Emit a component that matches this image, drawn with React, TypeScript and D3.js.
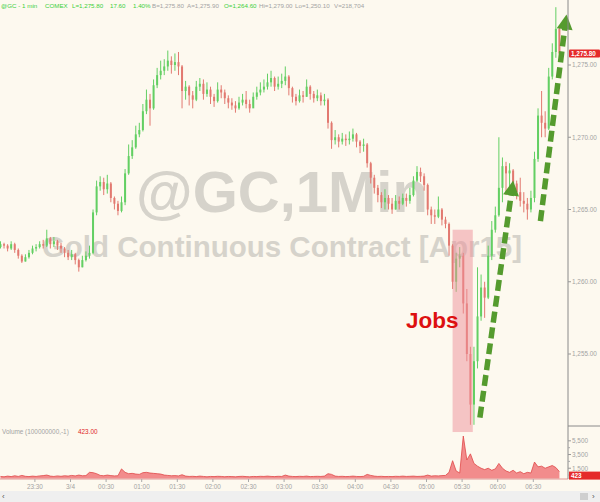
import React from 'react';
import * as d3 from 'd3';

const W = 600;
const H = 502;

// ---- data (3-minute bars) ----
const startMinute = -59; // 23:01, minutes relative to 3/4 00:00
const barMinutes = 3;
const firstOpen = 1262.4;

const closes = [
  1262.6, 1262.5, 1262.3, 1262.6, 1262.2, 1261.8, 1261.4, 1261.7, 1262.0, 1262.3,
  1262.4, 1262.6, 1262.5, 1263.0, 1262.6, 1262.8, 1262.5, 1262.3, 1262.0, 1261.7,
  1261.9, 1261.5, 1261.0, 1261.5, 1261.8, 1262.0, 1264.8, 1266.6, 1266.9, 1266.4,
  1266.8, 1265.8, 1265.4, 1264.9, 1265.5, 1267.5, 1268.7, 1269.3, 1270.2, 1270.5,
  1271.8, 1272.6, 1272.0, 1273.6, 1274.3, 1274.6, 1274.9, 1275.3, 1275.0, 1275.2,
  1274.9, 1273.2, 1273.5, 1272.9, 1272.6, 1273.5, 1273.7, 1273.0, 1273.3, 1272.8,
  1272.5, 1273.3, 1273.1, 1272.7, 1272.4, 1272.2, 1272.0, 1272.4, 1272.6, 1272.3,
  1272.0, 1272.8, 1273.1, 1273.3, 1273.5, 1273.8, 1274.1, 1273.5, 1273.7, 1273.9,
  1274.2, 1273.4, 1272.8, 1272.5, 1272.9, 1272.8, 1273.5, 1273.0, 1272.7, 1272.9,
  1272.5, 1272.6, 1271.0, 1269.8, 1270.0, 1269.7, 1269.9, 1269.8, 1269.9, 1270.2,
  1269.7, 1269.4, 1269.5, 1268.2, 1267.2, 1266.5, 1266.0, 1265.5, 1265.8, 1265.4,
  1265.0, 1265.6, 1265.4, 1265.8, 1265.6, 1266.0, 1267.0, 1267.6, 1267.3, 1266.7,
  1265.0, 1264.6, 1264.5, 1265.0, 1264.3, 1264.0, 1262.5, 1260.0, 1261.6, 1261.8,
  1258.5, 1255.0, 1251.5, 1254.5, 1257.6, 1259.6, 1258.9, 1261.8, 1263.6, 1264.6,
  1266.5, 1268.0, 1267.5, 1267.7, 1266.8, 1266.2, 1265.6, 1265.4, 1265.0, 1265.8,
  1268.5, 1271.5, 1271.0, 1270.6, 1274.2, 1275.9, 1277.5, 1275.8,
];

const highs = [
  1262.8, 1262.7, 1262.6, 1262.8, 1262.7, 1262.3, 1261.9, 1261.9, 1262.2, 1262.5,
  1262.6, 1262.8, 1262.9, 1263.6, 1263.1, 1263.1, 1262.9, 1262.7, 1262.4, 1262.2,
  1262.2, 1262.0, 1261.6, 1261.8, 1262.1, 1262.5, 1265.0, 1267.0, 1267.3, 1267.2,
  1267.4, 1266.9, 1265.9, 1265.6, 1265.9, 1267.8, 1269.5, 1269.8, 1270.8, 1271.0,
  1272.3, 1273.3, 1273.0, 1274.0, 1274.8, 1275.3, 1275.4, 1276.0, 1275.6, 1275.8,
  1275.9, 1275.0, 1273.9, 1273.6, 1273.2, 1273.9, 1274.1, 1274.0, 1273.8, 1273.5,
  1273.0, 1273.8, 1273.6, 1273.3, 1272.9, 1272.7, 1272.5, 1272.8, 1273.0, 1273.2,
  1272.6, 1273.1, 1273.5, 1273.8, 1274.0, 1274.4, 1274.6, 1274.2, 1274.2, 1274.4,
  1274.9, 1274.3, 1273.5, 1273.0, 1273.3, 1273.2, 1274.0, 1273.6, 1273.2, 1273.3,
  1273.1, 1273.0, 1272.7, 1271.1, 1270.5, 1270.2, 1270.3, 1270.2, 1270.4, 1270.6,
  1270.3, 1269.8, 1269.9, 1269.6, 1268.3, 1267.4, 1266.7, 1266.2, 1266.4, 1266.0,
  1265.8, 1266.0, 1265.9, 1266.1, 1266.1, 1266.5, 1267.3, 1268.0, 1267.9, 1267.5,
  1266.8, 1265.2, 1265.0, 1265.9, 1265.1, 1264.5, 1264.1, 1262.6, 1262.0, 1262.4,
  1262.0, 1259.5, 1255.5, 1255.5, 1261.0, 1260.5, 1260.0, 1262.5, 1264.2, 1265.2,
  1270.0, 1268.6, 1268.3, 1268.2, 1267.8, 1267.0, 1267.2, 1266.2, 1265.8, 1266.3,
  1269.0, 1272.0, 1273.2, 1271.8, 1274.8, 1276.5, 1279.0, 1277.6,
];

const lows = [
  1262.3, 1262.3, 1262.1, 1262.2, 1262.0, 1261.6, 1261.3, 1261.4, 1261.6, 1261.9,
  1262.1, 1262.3, 1262.3, 1262.4, 1262.3, 1262.4, 1262.2, 1262.0, 1261.7, 1261.5,
  1261.5, 1261.2, 1260.7, 1261.0, 1261.4, 1261.6, 1261.9, 1264.6, 1266.3, 1266.0,
  1266.1, 1265.5, 1265.0, 1264.6, 1264.8, 1265.3, 1267.4, 1268.5, 1269.2, 1270.0,
  1270.4, 1271.6, 1270.8, 1271.9, 1273.4, 1274.0, 1274.3, 1274.6, 1274.4, 1274.6,
  1274.3, 1272.0, 1272.6, 1272.2, 1272.0, 1272.5, 1273.2, 1272.6, 1272.8, 1272.3,
  1272.1, 1272.4, 1272.7, 1272.3, 1272.0, 1271.9, 1271.7, 1271.9, 1272.2, 1272.0,
  1271.7, 1272.2, 1272.6, 1272.9, 1273.1, 1273.3, 1273.5, 1273.2, 1273.3, 1273.4,
  1273.6, 1272.9, 1272.4, 1272.2, 1272.4, 1272.4, 1272.8, 1272.6, 1272.4, 1272.5,
  1272.2, 1272.2, 1270.6, 1269.2, 1269.5, 1269.3, 1269.5, 1269.4, 1269.5, 1269.7,
  1269.3, 1268.9, 1269.0, 1267.9, 1266.8, 1266.1, 1265.5, 1265.1, 1265.0, 1265.0,
  1264.7, 1265.0, 1265.0, 1265.3, 1265.2, 1265.4, 1265.9, 1266.9, 1266.9, 1266.3,
  1264.6, 1264.0, 1264.0, 1264.4, 1263.9, 1263.7, 1261.8, 1259.5, 1259.3, 1261.0,
  1257.8, 1254.5, 1250.1, 1250.1, 1254.0, 1257.3, 1257.5, 1258.8, 1261.5, 1263.4,
  1264.5, 1265.5, 1266.0, 1266.5, 1266.3, 1265.7, 1265.2, 1264.8, 1264.3, 1264.8,
  1265.5, 1268.3, 1270.0, 1270.0, 1270.5, 1274.0, 1275.5, 1275.3,
];

const volumes = [
  300, 250, 350, 280, 400, 300, 450, 320, 280, 350,
  300, 380, 420, 500, 350, 300, 380, 320, 400, 350,
  450, 380, 500, 400, 420, 900, 850, 700, 450, 400,
  500, 420, 380, 400, 1400, 900, 700, 750, 650, 600,
  850, 900, 800, 750, 700, 650, 500, 450, 400, 420,
  380, 550, 350, 300, 320, 280, 350, 300, 250, 300,
  280, 320, 300, 260, 300, 280, 250, 300, 320, 280,
  250, 300, 280, 320, 300, 350, 300, 280, 320, 300,
  500, 350, 300, 280, 320, 300, 350, 280, 300, 320,
  300, 350, 700, 600, 350, 300, 320, 280, 300, 350,
  300, 280, 320, 600, 450, 350, 300, 320, 280, 300,
  280, 320, 300, 350, 300, 320, 350, 300, 320, 350,
  500, 350, 400, 380, 420, 450, 900, 2600, 1100, 800,
  6200, 2700, 3600, 2200, 1800, 1500, 1300, 1500, 1200, 1400,
  2200, 1500, 1100, 900, 1200, 800, 1000, 700, 900, 800,
  2400, 1700, 1800, 1500, 1700, 1900, 1600, 1000,
];

const tickMinutes = [-30, 0, 30, 60, 90, 120, 150, 180, 210, 240, 270, 300, 330, 360, 390];
const tickLabels = ['23:30', '3/4', '00:30', '01:00', '01:30', '02:00', '02:30', '03:00', '03:30', '04:00', '04:30', '05:00', '05:30', '06:00', '06:30'];
const priceTicks = [1255, 1260, 1265, 1270, 1275];
const volumeTicks = [1500, 3500, 5500];
const volumeMinorTicks = [500, 2500, 4500];
const lastPrice = 1275.8;
const lastVolume = 423;

const headerTexts = ['@GC - 1 min', 'COMEX', 'L=1,275.80', '17.60', '1.40%', 'B=1,275.80', 'A=1,275.90', 'O=1,264.60', 'Hi=1,279.00', 'Lo=1,250.10', 'V=218,704'];
const headerGreen = [true, true, true, true, true, false, false, true, false, false, false];

// jobs window (minutes) and arrows (minute, price)
const jobsStart = 322;
const jobsEnd = 339;
const jobsTop = 1263.6;
const jobsBottom = 1249.6;
const arrows = [
  { from: [345, 1250.6], to: [373, 1267.0] },
  { from: [396, 1264.2], to: [418, 1278.5] },
];

// ---- layout ----
const AXIS_X = 568;
const FONT = 'Liberation Sans, Arial, Helvetica, sans-serif';
const BG = '#fdf9ef';
const UP = '#63cf63';
const DOWN = '#e27970';
const GREEN_TXT = '#3ccf3c';
const GRAY_TXT = '#a3a3a3';
const headerX = [1, 45, 72, 110, 133, 152, 187, 224, 259, 295, 334];

export default function App() {
  const x = d3.scaleLinear().domain([0, 30]).range([70.5, 106.1]);
  const y = d3.scaleLinear().domain([1255, 1275]).range([354, 65]);
  const vy = d3.scaleLinear().domain([0, 2000]).range([478.5, 464.8]);

  const bars = closes.map((c, i) => ({
    t: startMinute + i * barMinutes,
    o: i === 0 ? firstOpen : closes[i - 1],
    h: highs[i],
    l: lows[i],
    c,
    v: volumes[i],
  }));

  const volArea = d3
    .area<any>()
    .x((d) => x(d.t))
    .y0(vy(0))
    .y1((d) => vy(d.v))
    .curve(d3.curveLinear);
  const volLine = d3
    .line<any>()
    .x((d) => x(d.t))
    .y((d) => vy(d.v))
    .curve(d3.curveLinear);

  const arrowEls = arrows.map((a, k) => {
    const x0 = x(a.from[0]);
    const y0 = y(a.from[1]);
    const x1 = x(a.to[0]);
    const y1 = y(a.to[1]);
    const dx = x1 - x0;
    const dy = y1 - y0;
    const len = Math.hypot(dx, dy);
    const ux = dx / len;
    const uy = dy / len;
    const headLen = 15;
    const headW = 8;
    const bx = x1 - ux * headLen;
    const by = y1 - uy * headLen;
    const px = -uy;
    const py = ux;
    const pts = [
      [x1, y1],
      [bx + px * headW, by + py * headW],
      [bx - px * headW, by - py * headW],
    ];
    return (
      <g key={k}>
        <line x1={x0} y1={y0} x2={bx + ux * 1} y2={by + uy * 1} stroke="#559b2e" strokeWidth={5.5} strokeDasharray="11 5" />
        <polygon points={pts.map((p) => p.join(',')).join(' ')} fill="#559b2e" />
      </g>
    );
  });

  return (
    <svg width={W} height={H} style={{ position: 'absolute', left: 0, top: 0, display: 'block' }} fontFamily={FONT}>
      <rect x={0} y={0} width={W} height={H} fill={BG} />

      {/* watermark */}
      <text x={282} y={212} textAnchor="middle" fontSize={58} fontWeight="bold" fill="#d6d3cb">
        @GC,1Min
      </text>
      <text x={282} y={257} textAnchor="middle" fontSize={29.5} fontWeight="bold" fill="#d6d3cb">
        Gold Continuous Contract [Apr15]
      </text>

      {/* header */}
      {headerTexts.map((t, i) => (
        <text key={i} x={headerX[i]} y={8} fontSize={6.2} fill={headerGreen[i] ? GREEN_TXT : GRAY_TXT}>
          {t}
        </text>
      ))}

      {/* candles */}
      {bars.map((b, i) => {
        const col = b.c >= b.o ? UP : DOWN;
        const cx = x(b.t);
        const top = y(Math.max(b.o, b.c));
        const bot = y(Math.min(b.o, b.c));
        return (
          <g key={i}>
            <line x1={cx} x2={cx} y1={y(b.h)} y2={y(b.l)} stroke={col} strokeWidth={1} />
            <rect x={cx - 1} y={top} width={2} height={Math.max(1, bot - top)} fill={col} />
          </g>
        );
      })}

      {/* jobs highlight */}
      <rect
        x={x(jobsStart)}
        y={y(jobsTop)}
        width={x(jobsEnd) - x(jobsStart)}
        height={y(jobsBottom) - y(jobsTop)}
        fill="#ee8f99"
        opacity={0.5}
      />
      <text x={406} y={328} fontSize={22.5} fontWeight="bold" fill="#dd1111">
        Jobs
      </text>

      {arrowEls}

      {/* volume */}
      <path d={volArea(bars) || ''} fill="#f28c8c" />
      <path d={volLine(bars) || ''} fill="none" stroke="#e04848" strokeWidth={0.8} />
      <line x1={0} x2={AXIS_X} y1={479} y2={479} stroke="#d98080" strokeWidth={0.8} />
      <text x={2} y={434} fontSize={6.4} fill={GRAY_TXT}>
        Volume (100000000,-1)
      </text>
      <text x={78} y={434} fontSize={6.4} fill="#e02525">
        {lastVolume.toFixed(2)}
      </text>

      {/* right axis */}
      <line x1={AXIS_X} x2={AXIS_X} y1={0} y2={479} stroke="#8a8a8a" strokeWidth={1} />
      <line x1={AXIS_X} x2={W} y1={426} y2={426} stroke="#8a8a8a" strokeWidth={1} />
      {priceTicks.map((p) => (
        <g key={p}>
          <line x1={AXIS_X} x2={AXIS_X + 3} y1={y(p)} y2={y(p)} stroke="#999" />
          <text x={AXIS_X + 4} y={y(p) + 2.3} fontSize={6.4} fill={GRAY_TXT}>
            {d3.format(',.2f')(p)}
          </text>
        </g>
      ))}
      {volumeTicks.map((v) => (
        <g key={v}>
          <line x1={AXIS_X} x2={AXIS_X + 3} y1={vy(v)} y2={vy(v)} stroke="#999" />
          <text x={AXIS_X + 4} y={vy(v) + 2.3} fontSize={6.4} fill={GRAY_TXT}>
            {d3.format(',')(v)}
          </text>
        </g>
      ))}
      {volumeMinorTicks.map((v) => (
        <line key={v} x1={AXIS_X} x2={AXIS_X + 2} y1={vy(v)} y2={vy(v)} stroke="#aaa" />
      ))}
      <rect x={AXIS_X + 1} y={y(lastPrice) - 4} width={W - AXIS_X - 1} height={8} fill="#e52a2a" rx={1} />
      <text x={AXIS_X + 3} y={y(lastPrice) + 2.4} fontSize={6.4} fontWeight="bold" fill="#fff">
        {d3.format(',.2f')(lastPrice)}
      </text>
      <rect x={AXIS_X + 1} y={vy(lastVolume) - 4} width={W - AXIS_X - 1} height={8} fill="#e52a2a" />
      <text x={AXIS_X + 3} y={vy(lastVolume) + 2.4} fontSize={6.4} fontWeight="bold" fill="#fff">
        {lastVolume}
      </text>

      {/* time axis */}
      {tickMinutes.map((m, i) => (
        <g key={m}>
          <line x1={x(m)} x2={x(m)} y1={479} y2={482} stroke="#aaa" />
          <text x={x(m)} y={489} textAnchor="middle" fontSize={6.4} fill={GRAY_TXT}>
            {tickLabels[i]}
          </text>
        </g>
      ))}

      {/* scroll bar */}
      <rect x={0} y={491} width={W} height={11} fill="#efefef" />
      <text x={2} y={499} fontSize={8} fill="#555">
        ‹
      </text>
      <rect x={580} y={493} width={8} height={7} fill="#cfcfcf" />
      <text x={592} y={499} fontSize={8} fill="#555">
        ›
      </text>
    </svg>
  );
}
